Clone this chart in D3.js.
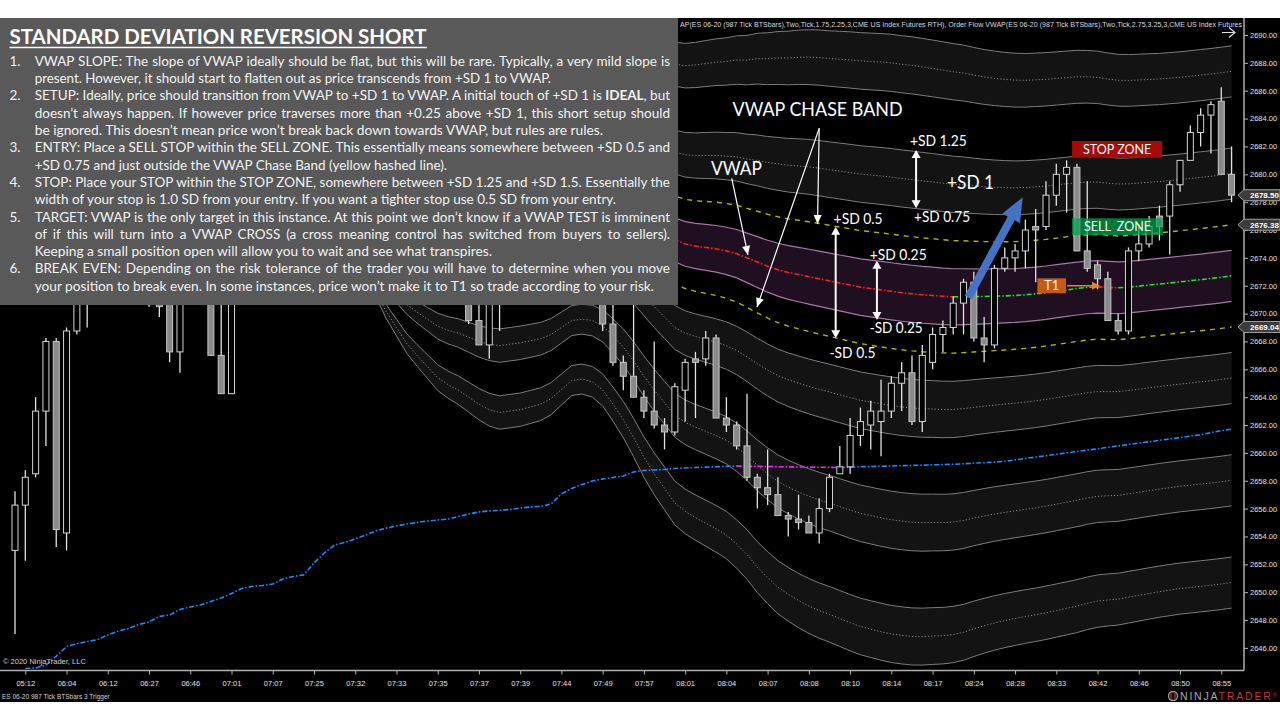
<!DOCTYPE html>
<html><head><meta charset="utf-8">
<script src="https://cdn.jsdelivr.net/npm/d3@7"></script>
<style>html,body{margin:0;padding:0;background:#fff}svg{display:block}</style>
</head><body>
<svg id="c" width="1280" height="720"></svg>
<script>
// ---------------- DATA ----------------
const timeLabels = ["05:12","06:04","06:12","06:27","06:46","07:01","07:07","07:25","07:32","07:33","07:35","07:37","07:39","07:44","07:49","07:57","08:01","08:04","08:07","08:08","08:10","08:14","08:17","08:24","08:28","08:33","08:42","08:46","08:50","08:55"];
const priceTicks = [2646,2648,2650,2652,2654,2656,2658,2660,2662,2664,2666,2668,2670,2672,2674,2676,2678,2680,2682,2684,2686,2688,2690];

const candleOpen = [2653.0,2656.25,2658.5,2663.0,2668.0,2654.25,2668.75,2676.0,2678.5,2682.0,2684.5,2680.0,2677.0,2679.25,2672.0,2673.0,2667.25,2673.0,2675.5,2673.0,2667.0,2664.25,2675.0,2678.0,2677.0,2682.0,2680.5,2679.0,2684.0,2683.0,2679.0,2675.5,2678.0,2676.0,2679.5,2677.0,2673.5,2677.0,2681.0,2679.5,2676.0,2678.0,2676.5,2673.0,2674.5,2669.5,2667.75,2674.0,2676.0,2679.0,2681.5,2679.0,2681.0,2683.5,2680.0,2676.0,2678.0,2673.0,2669.25,2666.5,2665.5,2664.0,2663.0,2662.0,2661.5,2664.5,2666.75,2666.75,2668.25,2662.5,2662.0,2660.5,2658.25,2657.5,2657.0,2655.5,2655.25,2655.0,2654.25,2656.0,2658.5,2659.0,2661.25,2662.0,2662.25,2663.0,2665.0,2665.75,2662.25,2666.5,2668.5,2669.0,2670.75,2672.25,2668.25,2667.75,2673.25,2674.0,2674.5,2676.25,2676.25,2678.5,2680.0,2680.5,2674.5,2673.5,2672.5,2669.5,2668.75,2674.5,2675.0,2677.0,2677.0,2679.25,2681.0,2683.0,2684.25,2685.25,2680.0];
const candleHigh = [2657.25,2658.75,2664.0,2668.25,2668.25,2669.0,2677.5,2680.0,2683.0,2685.5,2686.0,2682.5,2680.0,2680.5,2674.5,2674.0,2674.5,2676.5,2677.0,2674.0,2672.0,2676.0,2679.0,2681.0,2682.5,2684.0,2683.0,2684.5,2686.5,2684.0,2681.0,2679.0,2679.5,2680.5,2681.0,2679.0,2677.5,2682.0,2683.5,2681.0,2678.5,2680.0,2677.5,2675.0,2675.0,2671.5,2675.0,2677.0,2680.0,2682.5,2683.0,2682.0,2684.5,2685.0,2681.5,2679.0,2679.0,2674.5,2672.0,2667.0,2672.0,2664.5,2668.0,2662.5,2665.0,2666.75,2667.25,2668.75,2668.5,2664.0,2662.25,2664.25,2658.5,2660.25,2658.25,2655.75,2657.0,2655.5,2656.75,2658.5,2660.5,2662.5,2663.25,2663.75,2665.25,2665.5,2666.5,2667.0,2667.75,2669.0,2669.5,2671.25,2672.5,2673.0,2669.75,2673.5,2674.75,2675.0,2676.75,2677.5,2679.5,2680.75,2681.0,2680.75,2679.5,2673.75,2673.0,2670.0,2674.75,2676.25,2677.0,2677.75,2679.5,2681.0,2683.5,2684.75,2685.25,2686.25,2682.0];
const candleLow = [2647.0,2652.25,2658.25,2660.5,2653.25,2653.0,2668.5,2669.0,2677.0,2680.5,2679.0,2676.0,2675.5,2670.5,2669.75,2666.5,2665.75,2671.5,2672.0,2667.0,2664.25,2664.25,2673.5,2676.0,2676.5,2679.5,2678.0,2678.5,2682.0,2678.0,2674.0,2673.0,2674.5,2675.5,2676.0,2672.5,2672.0,2676.5,2678.5,2675.0,2673.5,2675.5,2672.0,2671.0,2669.25,2667.75,2666.75,2668.75,2675.0,2677.5,2678.0,2676.0,2680.0,2679.0,2675.0,2673.5,2672.0,2668.75,2666.25,2664.5,2664.0,2662.5,2661.75,2660.25,2661.25,2662.25,2662.5,2666.25,2662.5,2661.5,2660.25,2658.0,2656.0,2656.25,2655.5,2654.0,2654.5,2654.25,2653.5,2655.75,2658.5,2658.5,2660.5,2660.25,2659.75,2662.5,2663.0,2662.0,2661.5,2666.0,2667.25,2668.5,2668.5,2668.0,2666.5,2667.5,2673.0,2673.0,2673.25,2672.25,2676.0,2677.75,2677.25,2674.5,2673.0,2671.75,2669.5,2668.5,2668.5,2673.75,2674.75,2675.25,2674.25,2678.75,2681.0,2682.0,2681.5,2680.0,2678.0];
const candleClose = [2656.25,2658.25,2663.0,2668.0,2654.5,2668.75,2676.0,2678.5,2682.0,2684.5,2680.0,2677.0,2679.25,2672.0,2670.5,2667.25,2673.0,2675.5,2673.0,2667.0,2664.25,2675.0,2678.0,2677.0,2682.0,2680.5,2679.0,2684.0,2683.0,2679.0,2675.5,2678.0,2676.0,2679.5,2677.0,2673.5,2677.0,2681.0,2679.5,2676.0,2678.0,2676.5,2673.0,2674.0,2669.5,2667.75,2674.0,2676.0,2679.0,2681.5,2679.0,2681.0,2683.5,2680.0,2676.0,2678.0,2673.0,2669.25,2666.5,2665.5,2664.0,2663.0,2662.0,2661.5,2664.75,2666.5,2666.5,2668.25,2662.5,2662.0,2660.5,2658.25,2657.5,2657.0,2655.5,2655.25,2655.0,2654.25,2656.0,2658.25,2659.0,2661.25,2662.25,2663.0,2663.0,2665.0,2665.75,2662.25,2667.0,2668.5,2669.0,2670.75,2672.25,2668.25,2667.75,2673.25,2674.0,2674.5,2676.0,2676.0,2678.5,2680.0,2680.5,2674.5,2673.25,2672.5,2669.5,2668.75,2674.5,2675.0,2676.25,2676.25,2679.25,2681.0,2683.0,2684.25,2685.0,2680.0,2678.5];

// session VWAP with SD bands (starts at bar 33)
const vwapStart = 33;
const vwapValues = [2676.0,2676.05,2676.1,2676.15,2676.2,2676.25,2676.3,2676.4,2676.5,2676.6,2676.8,2676.9,2677.0,2677.2,2677.3,2677.4,2677.5,2677.55,2677.6,2677.7,2677.9,2678.1,2678.2,2678.3,2678.32,2678.2,2678.0,2677.6,2677.1,2676.5,2675.9,2675.3,2675.0,2674.85,2674.75,2674.65,2674.5,2674.3,2674.0,2673.7,2673.4,2673.15,2672.95,2672.8,2672.65,2672.5,2672.35,2672.2,2672.05,2671.9,2671.8,2671.7,2671.6,2671.5,2671.42,2671.35,2671.3,2671.24,2671.2,2671.21,2671.22,2671.23,2671.25,2671.27,2671.3,2671.35,2671.42,2671.5,2671.6,2671.7,2671.8,2671.88,2671.92,2671.88,2671.85,2671.9,2671.97,2672.05,2672.12,2672.2,2672.28,2672.36,2672.44,2672.52,2672.61,2672.71];
const sdValues = [0.5,1.0,1.5,2.0,2.4,2.8,3.1,3.4,3.7,3.9,4.1,4.3,4.5,4.7,4.8,4.8,4.8,4.75,4.7,4.6,4.45,4.3,4.3,4.4,4.6,4.9,5.2,5.5,5.8,6.0,6.15,6.3,6.4,6.5,6.6,6.7,6.8,6.95,7.1,7.3,7.45,7.6,7.7,7.8,7.88,7.94,7.98,8.03,8.08,8.12,8.15,8.18,8.2,8.2,8.2,8.18,8.15,8.12,8.08,8.03,7.95,7.88,7.82,7.77,7.73,7.7,7.68,7.66,7.64,7.62,7.6,7.56,7.52,7.48,7.45,7.42,7.4,7.38,7.36,7.35,7.34,7.34,7.34,7.34,7.34,7.34];
const bandSolid = [0.75,1.25,1.75,2.25,2.75,3.25,-0.75,-1.25,-1.75,-2.25,-2.75,-3.25];
const bandDotted = [1,2,3,-1,-2,-3];
const bandInner = [0.25,-0.25];
const bandChase = [0.5,-0.5];
const bandFills = [[0.75,1.25],[1.75,2.25],[2.75,3.25],[-1.25,-0.75],[-2.25,-1.75],[-3.25,-2.75]];

// longer VWAP (blue) from bar 1
const blueStart = 1;
const blueVwap = [2644.52,2644.56,2644.77,2645.4,2646.1,2646.3,2646.46,2646.6,2646.93,2647.2,2647.4,2647.68,2647.86,2648.26,2648.36,2648.76,2648.94,2649.08,2649.33,2649.58,2649.9,2650.27,2650.41,2650.48,2650.59,2650.95,2651.13,2651.24,2652.1,2652.81,2653.39,2653.57,2653.82,2654.1,2654.4,2654.6,2654.75,2654.9,2655.0,2655.11,2655.18,2655.25,2655.43,2655.61,2655.76,2655.83,2655.87,2655.94,2656.04,2656.12,2656.15,2656.33,2657.05,2657.45,2657.73,2657.98,2658.13,2658.23,2658.34,2658.63,2658.74,2658.77,2658.81,2658.88,2658.92,2658.95,2658.98,2659.0,2659.03,2659.05,2659.04,2659.03,2659.02,2659.01,2659.0,2658.99,2658.98,2658.97,2658.96,2658.95,2658.97,2659.0,2659.02,2659.04,2659.06,2659.08,2659.1,2659.12,2659.14,2659.16,2659.18,2659.22,2659.26,2659.3,2659.34,2659.4,2659.5,2659.6,2659.7,2659.8,2659.9,2660.0,2660.1,2660.2,2660.3,2660.4,2660.5,2660.6,2660.7,2660.8,2660.9,2661.0,2661.1,2661.2,2661.3,2661.45,2661.6,2661.7];

// annotations in data units (bar index, price)
const noteTexts = [
  {t:"VWAP CHASE BAND", bar:69.6, price:2684.19, size:19, w:170},
  {t:"VWAP", bar:67.5, price:2679.95, size:19, w:51},
  {t:"+SD 1.25", bar:86.8, price:2682.03, size:15, w:57},
  {t:"+SD 1", bar:90.4, price:2678.94, size:19, w:47},
  {t:"+SD 0.75", bar:87.2, price:2676.54, size:15, w:56},
  {t:"+SD 0.5", bar:79.4, price:2676.43, size:15, w:49},
  {t:"+SD 0.25", bar:82.9, price:2673.85, size:15, w:57},
  {t:"-SD 0.25", bar:82.9, price:2668.61, size:15, w:53},
  {t:"-SD 0.5", bar:79.0, price:2666.81, size:15, w:46}
];
const noteDoubleArrows = [[87.4,2681.74,2677.56],[79.6,2676.24,2668.23],[83.6,2673.8,2669.54]];
const notePointers = [[69.52,2679.71,71.09,2674.21],[78.0,2683.3,77.84,2676.43],[78.0,2683.3,71.97,2670.47]];
const noteBlueArrow = [92.46,2671.17,97.74,2678.35];
const noteBoxes = [
  {t:"STOP ZONE", b0:102.53, b1:111.27, p0:2682.39, p1:2681.19, fill:"#a30b0b", op:1},
  {t:"SELL  ZONE", b0:102.53, b1:111.33, p0:2676.84, p1:2675.64, fill:"#00a651", op:0.72},
  {t:"T1", b0:99.16, b1:101.94, p0:2672.53, p1:2671.46, fill:"#c55a11", op:1}
];
const noteT1Arrow = [102.04,105.24,2672.0];

// ---------------- DRAW ----------------
const svg = d3.select("#c");
const x = d3.scaleLinear().domain([0,118]).range([15,1231.58]);
const y = d3.scaleLinear().domain([2646,2690]).range([647.9,35]);

svg.append("rect").attr("width",1280).attr("height",720).attr("fill","#fff");
svg.append("rect").attr("x",0).attr("y",18).attr("width",1280).attr("height",684).attr("fill","#000");
svg.append("defs").append("clipPath").attr("id","pc").append("rect").attr("x",0).attr("y",18).attr("width",1244).attr("height",652);
const plot = svg.append("g").attr("clip-path","url(#pc)");

const bands = vwapValues.map((v,k)=>({i:vwapStart+k, v, s:sdValues[k]}));
const areaFor = (a,b)=>d3.area().x(d=>x(d.i)).y0(d=>y(d.v+a*d.s)).y1(d=>y(d.v+b*d.s));
const lineFor = (m)=>d3.line().x(d=>x(d.i)).y(d=>y(d.v+m*d.s));

const gb = plot.append("g");
bandFills.forEach(([a,b])=>gb.append("path").datum(bands).attr("fill","#131313").attr("d",areaFor(a,b)));
gb.append("path").datum(bands).attr("fill","#1f0f20").attr("d",areaFor(bandInner[1],bandInner[0]));
bandSolid.forEach(m=>gb.append("path").datum(bands).attr("fill","none").attr("stroke","#7c7c7c").attr("stroke-width",1).attr("d",lineFor(m)));
bandDotted.forEach(m=>gb.append("path").datum(bands).attr("fill","none").attr("stroke","#8c8c8c").attr("stroke-width",1).attr("stroke-dasharray","1.2,2").attr("d",lineFor(m)));
bandInner.forEach(m=>gb.append("path").datum(bands).attr("fill","none").attr("stroke","#a676a6").attr("stroke-width",1.2).attr("d",lineFor(m)));
bandChase.forEach(m=>gb.append("path").datum(bands).attr("fill","none").attr("stroke","#b3b300").attr("stroke-width",1.4).attr("stroke-dasharray","5,5").attr("d",lineFor(m)));

function colorRuns(pts, up, down){
  const out=[]; let cur=null;
  for(let k=1;k<pts.length;k++){
    const c = pts[k].p < pts[k-1].p ? down : up;
    if(!cur||cur.c!==c){cur={c,pts:[pts[k-1]]};out.push(cur);}
    cur.pts.push(pts[k]);
  }
  return out;
}
const ln = d3.line().x(d=>x(d.i)).y(d=>y(d.p));
colorRuns(bands.map(d=>({i:d.i,p:d.v})),"#22e022","#ff2020").forEach(r=>
  plot.append("path").attr("d",ln(r.pts)).attr("fill","none").attr("stroke",r.c).attr("stroke-width",1.6).attr("stroke-dasharray","5,2,1.5,2"));
colorRuns(blueVwap.map((p,k)=>({i:blueStart+k,p})),"#1a8cff","#ff22ff").forEach(r=>
  plot.append("path").attr("d",ln(r.pts)).attr("fill","none").attr("stroke",r.c).attr("stroke-width",1.6).attr("stroke-dasharray","5,2,1.5,2"));

// candles
const candles = candleOpen.map((o,i)=>({i,o,h:candleHigh[i],l:candleLow[i],c:candleClose[i]}));
plot.append("g").selectAll("line").data(candles).join("line")
  .attr("x1",d=>x(d.i)).attr("x2",d=>x(d.i)).attr("y1",d=>y(d.h)).attr("y2",d=>y(d.l))
  .attr("stroke","#e2e2e2").attr("stroke-width",1.3);
plot.append("g").selectAll("rect").data(candles).join("rect")
  .attr("x",d=>x(d.i)-3).attr("width",6)
  .attr("y",d=>y(Math.max(d.o,d.c))).attr("height",d=>Math.max(1,Math.abs(y(d.o)-y(d.c))))
  .attr("fill",d=>d.c>=d.o?"#000":"#8a8a8a").attr("stroke",d=>d.c>=d.o?"#d2d2d2":"#c6c6c6").attr("stroke-width",1);

// annotations
const an = plot.append("g");
function head(x1,y1,x2,y2,len,half){
  const a=Math.atan2(y2-y1,x2-x1), bx=x2-len*Math.cos(a), by=y2-len*Math.sin(a);
  const px=-Math.sin(a)*half, py=Math.cos(a)*half;
  return `M${x2},${y2}L${bx+px},${by+py}L${bx-px},${by-py}Z`;
}
noteDoubleArrows.forEach(([b,p1,p2])=>{
  const X=x(b),Y1=y(p1),Y2=y(p2);
  an.append("line").attr("x1",X).attr("x2",X).attr("y1",Y1+6).attr("y2",Y2-6).attr("stroke","#fff").attr("stroke-width",2);
  an.append("path").attr("d",head(X,Y2,X,Y1,8,4.5)).attr("fill","#fff");
  an.append("path").attr("d",head(X,Y1,X,Y2,8,4.5)).attr("fill","#fff");
});
notePointers.forEach(([b1,p1,b2,p2])=>{
  const X1=x(b1),Y1=y(p1),X2=x(b2),Y2=y(p2);
  an.append("line").attr("x1",X1).attr("y1",Y1).attr("x2",X2).attr("y2",Y2).attr("stroke","#fff").attr("stroke-width",1.2);
  an.append("path").attr("d",head(X1,Y1,X2,Y2,9,4)).attr("fill","#fff");
});
(function(){
  const [b1,p1,b2,p2]=noteBlueArrow, x1=x(b1),y1=y(p1),x2=x(b2),y2=y(p2);
  const a=Math.atan2(y2-y1,x2-x1), c=Math.cos(a), s=Math.sin(a), px=-s, py=c, sw=4, hw=10, hl=24;
  const bx=x2-hl*c, by=y2-hl*s;
  const pts=[[x1+px*sw,y1+py*sw],[bx+px*sw,by+py*sw],[bx+px*hw,by+py*hw],[x2,y2],[bx-px*hw,by-py*hw],[bx-px*sw,by-py*sw],[x1-px*sw,y1-py*sw]];
  an.append("path").attr("d","M"+pts.map(p=>p.join(",")).join("L")+"Z").attr("fill","#4472c4");
})();
noteBoxes.forEach(d=>{
  const X0=x(d.b0),X1=x(d.b1),Y0=y(d.p0),Y1=y(d.p1);
  an.append("rect").attr("x",X0).attr("y",Y0).attr("width",X1-X0).attr("height",Y1-Y0).attr("fill",d.fill).attr("opacity",d.op);
  an.append("text").attr("x",(X0+X1)/2).attr("y",(Y0+Y1)/2+4.3).attr("text-anchor","middle")
    .attr("font-family","Lato, 'Open Sans', sans-serif").attr("font-size",12.5).attr("fill","#fff").style("white-space","pre").text(d.t);
});
(function(){
  const [b1,b2,p]=noteT1Arrow, X1=x(b1),X2=x(b2),Y=y(p);
  an.append("line").attr("x1",X1).attr("x2",X2-6).attr("y1",Y).attr("y2",Y).attr("stroke","#ed7d31").attr("stroke-width",1.5);
  an.append("path").attr("d",head(X1,Y,X2,Y,8,4)).attr("fill","#ed7d31");
})();
noteTexts.forEach(d=>{
  an.append("text").attr("x",x(d.bar)).attr("y",y(d.price)).attr("font-family","Lato, 'Open Sans', sans-serif")
    .attr("font-size",d.size).attr("fill","#fff").attr("textLength",d.w).attr("lengthAdjust","spacingAndGlyphs").text(d.t);
});

// top indicator caption & scroll arrow
plot.append("text").attr("x",680).attr("y",27).attr("font-family","'Liberation Sans', Arial, sans-serif").attr("font-size",7.5)
  .attr("fill","#d8d8d8").attr("textLength",562).attr("lengthAdjust","spacingAndGlyphs")
  .text("AP(ES 06-20 (987 Tick BTSbars),Two,Tick,1.75,2.25,3,CME US Index Futures RTH), Order Flow VWAP(ES 06-20 (987 Tick BTSbars),Two,Tick,2.75,3.25,3,CME US Index Futures");
plot.append("path").attr("d","M1222,32.5H1235M1229,27.5L1235,32.5L1229,37.5").attr("stroke","#e0e0e0").attr("stroke-width",1.2).attr("fill","none");
plot.append("text").attr("x",3).attr("y",664).attr("font-family","'Liberation Sans', Arial, sans-serif").attr("font-size",7.5).attr("fill","#d0d0d0").text("© 2020 NinjaTrader, LLC");

// ---------------- TEXT BOX ----------------
const tb = svg.append("g");
tb.append("rect").attr("x",0).attr("y",18).attr("width",678).attr("height",287).attr("fill","#595959");
const FONT = "Lato, 'Open Sans', sans-serif";
tb.append("text").attr("x",9.5).attr("y",43.5).attr("font-family",FONT).attr("font-weight","bold").attr("font-size",20)
  .attr("fill","#fff").attr("textLength",417).attr("lengthAdjust","spacingAndGlyphs").text("STANDARD DEVIATION REVERSION SHORT");
tb.append("line").attr("x1",9.5).attr("x2",427).attr("y1",47.5).attr("y2",47.5).attr("stroke","#fff").attr("stroke-width",1.6);
const boxLines = [
 {num:"1.", segs:[["VWAP SLOPE: The slope of VWAP ideally should be flat, but this will be rare. Typically, a very mild slope is"]], end:670, j:true},
 {segs:[["present. However, it should start to flatten out as price transcends from +SD 1 to VWAP."]], end:551},
 {num:"2.", segs:[["SETUP: Ideally, price should transition from VWAP to +SD 1 to VWAP. A initial touch of +SD 1 is "],["IDEAL",1],[", but"]], end:670, j:true},
 {segs:[["doesn’t always happen. If however price traverses more than +0.25 above +SD 1, this short setup should"]], end:670, j:true},
 {segs:[["be ignored. This doesn’t mean price won’t break back down towards VWAP, but rules are rules."]], end:603},
 {num:"3.", segs:[["ENTRY: Place a SELL STOP within the SELL ZONE. This essentially means somewhere between +SD 0.5 and"]], end:670, j:true},
 {segs:[["+SD 0.75  and just outside the VWAP Chase Band (yellow hashed line)."]], end:447},
 {num:"4.", segs:[["STOP: Place your STOP within the STOP ZONE, somewhere between +SD 1.25 and +SD 1.5. Essentially the"]], end:670, j:true},
 {segs:[["width of your stop is 1.0 SD from your entry. If you want a  tighter stop use 0.5 SD from your entry."]], end:616},
 {num:"5.", segs:[["TARGET: VWAP is the only target in this instance. At this point we don’t know if a VWAP TEST is imminent"]], end:670, j:true},
 {segs:[["of if this will turn into a VWAP CROSS (a cross meaning control has switched from buyers to sellers)."]], end:670, j:true},
 {segs:[["Keeping a small position open will allow you to wait and see what transpires."]], end:492},
 {num:"6.", segs:[["BREAK EVEN: Depending on the risk tolerance of the trader you will have to determine when you move"]], end:670, j:true},
 {segs:[["your position to break even. In some instances, price won’t make it to T1 so trade according to your risk."]], end:654}
];
boxLines.forEach((L,k)=>{
  const by = 65.8 + 17.3*k;
  if(L.num) tb.append("text").attr("x",9.5).attr("y",by).attr("font-family",FONT).attr("font-size",13.5).attr("fill","#f2f2f2").text(L.num);
  const t = tb.append("text").attr("x",34.7).attr("y",by).attr("font-family",FONT).attr("font-size",13.5).attr("fill","#f2f2f2");
  L.segs.forEach(s=>t.append("tspan").attr("font-weight",s[1]?"bold":null).text(s[0]));
  const target = L.end-34.7, w = t.node().getComputedTextLength();
  const full = L.segs.map(s=>s[0]).join("");
  const spaces = (full.match(/ /g)||[]).length;
  if(L.j && w < target){ t.attr("word-spacing",((target-w)/spaces).toFixed(3)); }
  else { t.attr("textLength",target).attr("lengthAdjust","spacingAndGlyphs"); }
});

// ---------------- AXES ----------------
const AX = "'Liberation Sans', Arial, sans-serif";
svg.append("line").attr("x1",1244).attr("x2",1244).attr("y1",18).attr("y2",670.5).attr("stroke","#b0b0b0").attr("stroke-width",1.5);
svg.append("line").attr("x1",0).attr("x2",1244).attr("y1",670.5).attr("y2",670.5).attr("stroke","#b0b0b0").attr("stroke-width",1.5);
const yAx = svg.append("g").attr("transform","translate(1244,0)")
  .call(d3.axisRight(y).tickValues(priceTicks).tickFormat(d3.format(".2f")).tickSize(4).tickPadding(2));
const xAx = svg.append("g").attr("transform","translate(0,670.5)")
  .call(d3.axisBottom(x).tickValues(timeLabels.map((_,k)=>1+4*k)).tickFormat((d,k)=>timeLabels[k]).tickSize(4).tickPadding(6));
[yAx,xAx].forEach(g=>{
  g.select(".domain").remove();
  g.selectAll(".tick line").attr("stroke","#b0b0b0");
  g.selectAll(".tick text").attr("fill","#e0e0e0").attr("font-family",AX).attr("font-size",7.5);
});

// price markers
const lastI = vwapValues.length-1;
const markers = [candleClose[candleClose.length-1], vwapValues[lastI]+bandChase[0]*sdValues[lastI], vwapValues[lastI]+bandChase[1]*sdValues[lastI]];
markers.forEach(p=>{
  const Y=y(p);
  svg.append("path").attr("d",`M1238,${Y}L1244,${Y-5.5}H1280V${Y+5.5}H1244Z`).attr("fill","#3c3c3c").attr("stroke","#a0a0a0").attr("stroke-width",1);
  svg.append("text").attr("x",1250).attr("y",Y+3).attr("font-family",AX).attr("font-weight","bold").attr("font-size",8).attr("fill","#fff").text(d3.format(".2f")(p));
});

// footer
svg.append("text").attr("x",2).attr("y",699).attr("font-family",AX).attr("font-size",6.5).attr("fill","#d0d0d0").text("ES 06-20 987 Tick BTSbars 3 Trigger");
svg.append("circle").attr("cx",1173).attr("cy",696).attr("r",4.5).attr("fill","none").attr("stroke","#a0a0a0").attr("stroke-width",1.3);
svg.append("path").attr("d","M1171,693V699M1175,693V699").attr("stroke","#c0392b").attr("stroke-width",1.2);
const logo = svg.append("text").attr("x",1180).attr("y",700).attr("font-family",AX).attr("font-size",10.5)
  .attr("textLength",97).attr("lengthAdjust","spacing");
logo.append("tspan").attr("fill","#a8a8a8").text("NINJA");
logo.append("tspan").attr("fill","#c0392b").text("TRADER");
logo.append("tspan").attr("fill","#c0392b").attr("font-size",6).attr("dy",-3).text("®");
</script>
</body></html>
